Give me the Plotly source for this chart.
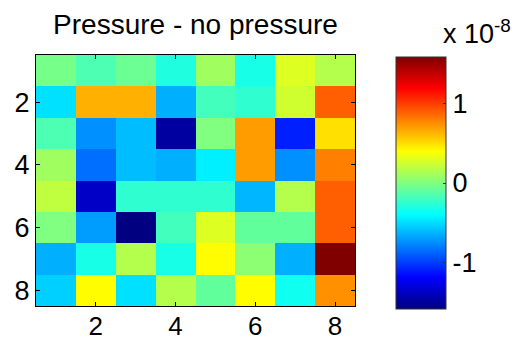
import plotly.graph_objects as go

# Grid indices
cols = [1, 2, 3, 4, 5, 6, 7, 8]
rows = [1, 2, 3, 4, 5, 6, 7, 8]

# Values in units of 1e-8 (row 1 = top)
row1 = [-0.03, -0.16, -0.06, -0.30, 0.10, -0.32, 0.29, 0.16]
row2 = [-0.49, 0.64, 0.64, -0.64, -0.19, -0.25, 0.25, 0.89]
row3 = [-0.16, -0.74, -0.60, -1.48, 0.00, 0.70, -1.09, 0.49]
row4 = [0.10, -0.84, -0.60, -0.64, -0.44, 0.70, -0.74, 0.79]
row5 = [0.20, -1.36, -0.25, -0.25, -0.25, -0.62, 0.16, 0.89]
row6 = [0.00, -0.70, -1.58, -0.19, 0.29, -0.09, -0.09, 0.89]
row7 = [-0.64, -0.32, 0.16, -0.32, 0.40, 0.04, -0.64, 1.58]
row8 = [-0.54, 0.40, -0.49, 0.16, -0.09, 0.40, -0.35, 0.74]
values = [row1, row2, row3, row4, row5, row6, row7, row8]

tick_vals = [2, 4, 6, 8]
cbar_tick_vals = [-1, 0, 1]
cbar_tick_text = ["-1", "0", "1"]
title_text = "Pressure - no pressure"
exponent_text = "x 10<sup>-8</sup>"

jet = [
    [0.0, "rgb(0,0,128)"],
    [0.125, "rgb(0,0,255)"],
    [0.375, "rgb(0,255,255)"],
    [0.625, "rgb(255,255,0)"],
    [0.875, "rgb(255,0,0)"],
    [1.0, "rgb(128,0,0)"],
]

FONT = "Liberation Sans, Arial, sans-serif"
FS = 27

W, H = 514, 341
L, R, T, B = 36, 159, 55, 35
pw = W - L - R
ph = H - T - B

zmin = min(min(r) for r in values)
zmax = max(max(r) for r in values)

fig = go.Figure(
    go.Heatmap(
        x=cols,
        y=rows,
        z=values,
        colorscale=jet,
        zmin=zmin,
        zmax=zmax,
        xgap=0,
        ygap=0,
        colorbar=dict(
            thickness=50,
            thicknessmode="pixels",
            len=252,
            lenmode="pixels",
            x=(396 - L) / pw,
            xanchor="left",
            xpad=0,
            y=1 - (57 - T) / ph,
            yanchor="top",
            ypad=0,
            outlinewidth=1,
            outlinecolor="#333333",
            tickvals=cbar_tick_vals,
            ticktext=cbar_tick_text,
            ticks="inside",
            ticklen=3,
            tickcolor="#333333",
            tickfont=dict(family=FONT, size=FS, color="#000000"),
        ),
    )
)

axis_common = dict(
    showgrid=False,
    zeroline=False,
    showline=True,
    linecolor="#000000",
    linewidth=1,
    mirror="ticks",
    ticks="inside",
    ticklen=4,
    tickcolor="#000000",
    tickvals=tick_vals,
    automargin=False,
)

fig.update_xaxes(
    range=[0.5, 8.5],
    ticklabelstandoff=-3,
    tickfont=dict(family=FONT, size=FS - 1, color="#000000"),
    **axis_common,
)
fig.update_yaxes(
    range=[8.5, 0.5],
    tickfont=dict(family=FONT, size=FS, color="#000000"),
    **axis_common,
)

fig.update_layout(
    width=W,
    height=H,
    margin=dict(l=L, r=R, t=T, b=B, pad=0, autoexpand=False),
    paper_bgcolor="white",
    plot_bgcolor="white",
    title=dict(
        text=title_text,
        x=0.5,
        xref="paper",
        xanchor="center",
        y=1 - 24 / H,
        yref="container",
        yanchor="middle",
        automargin=False,
        font=dict(family=FONT, size=FS + 1, color="#000000"),
    ),
    annotations=[
        dict(
            text=exponent_text,
            xref="paper",
            yref="paper",
            x=(441 - L) / pw,
            y=1 + (55 - 32) / ph,
            xanchor="left",
            yanchor="middle",
            showarrow=False,
            font=dict(family=FONT, size=FS, color="#000000"),
        )
    ],
)

fig.write_html("out.html")
